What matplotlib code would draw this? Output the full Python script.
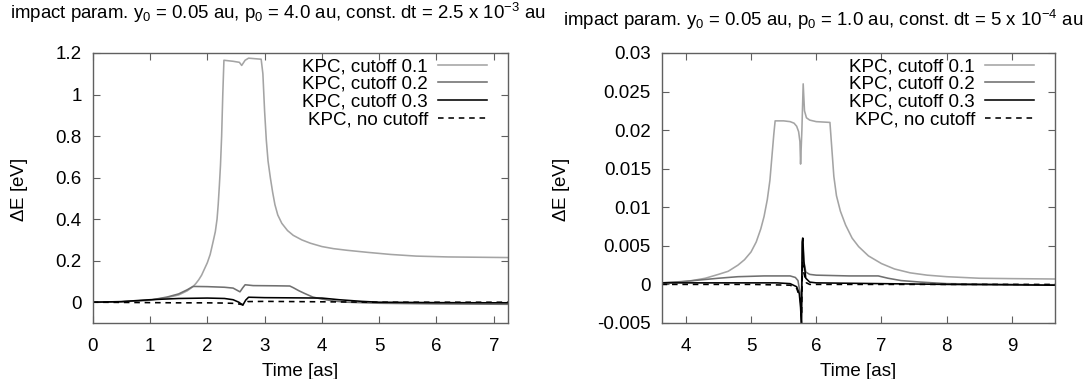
import matplotlib
matplotlib.use("Agg")
import matplotlib.pyplot as plt
from matplotlib.ticker import FormatStrFormatter, MultipleLocator

plt.rcParams["font.family"] = ["Liberation Sans", "DejaVu Sans"]
plt.rcParams["mathtext.fontset"] = "custom"
plt.rcParams["mathtext.rm"] = "Liberation Sans"
plt.rcParams["axes.unicode_minus"] = False

# ---- left panel data (p0 = 4.0 au) ----
left_t01 = [0, 0.5, 1.0, 1.3, 1.5, 1.65, 1.75, 1.8, 1.85, 1.9, 1.95, 2.0, 2.05, 2.1, 2.14,
            2.17, 2.19, 2.21, 2.23, 2.25, 2.27, 2.29, 2.45, 2.56, 2.6, 2.66, 2.72, 2.94,
            2.97, 3.0, 3.03, 3.06, 3.1, 3.14, 3.18, 3.23, 3.3, 3.4, 3.5, 3.65, 3.8, 4.0,
            4.2, 4.44, 4.8, 5.2, 5.65, 6.2, 7.25]
left_e01 = [0, 0.002, 0.01, 0.022, 0.035, 0.055, 0.075, 0.09, 0.108, 0.13, 0.16, 0.19, 0.23,
            0.29, 0.34, 0.4, 0.47, 0.56, 0.66, 0.8, 1.0, 1.165, 1.16, 1.155, 1.14, 1.165,
            1.175, 1.17, 1.1, 0.92, 0.78, 0.68, 0.6, 0.53, 0.47, 0.42, 0.38, 0.345, 0.322,
            0.3, 0.284, 0.268, 0.258, 0.25, 0.24, 0.23, 0.222, 0.218, 0.215]

left_t02 = [0, 0.5, 1.0, 1.3, 1.5, 1.65, 1.75, 2.0, 2.3, 2.45, 2.57, 2.62, 2.66, 2.8,
            3.2, 3.44, 3.5, 3.6, 3.7, 3.84, 4.0, 4.2, 4.44, 5.0, 6.0, 7.25]
left_e02 = [0, 0.002, 0.01, 0.025, 0.04, 0.06, 0.076, 0.075, 0.072, 0.068, 0.05, 0.07, 0.084, 0.08,
            0.079, 0.078, 0.07, 0.055, 0.042, 0.025, 0.015, 0.006, 0.0, -0.005, -0.008, -0.01]

left_t03 = [0, 0.5, 1.0, 1.5, 2.0, 2.3, 2.45, 2.55, 2.62, 2.67, 2.72, 3.0, 3.5, 4.0,
            4.3, 4.7, 5.0, 6.0, 7.25]
left_e03 = [0, 0.003, 0.012, 0.018, 0.02, 0.018, 0.012, 0.0, -0.014, 0.01, 0.024, 0.022, 0.021, 0.02,
            0.012, 0.004, 0.0, -0.002, -0.003]

left_t00 = [0, 0.5, 1.0, 1.5, 2.0, 2.3, 2.5, 2.62, 2.7, 3.0, 3.5, 4.0, 5.0, 7.25]
left_e00 = [0, -0.001, -0.002, -0.003, -0.003, -0.004, -0.006, -0.012, 0.003, 0.004, 0.003,
            0.002, 0.0, 0.0]

# ---- right panel data (p0 = 1.0 au) ----
right_t01 = [3.63, 3.9, 4.1, 4.3, 4.5, 4.65, 4.8, 4.9, 5.0, 5.08, 5.15, 5.2, 5.25, 5.29,
             5.32, 5.35, 5.37, 5.5, 5.6, 5.66, 5.7, 5.73, 5.75, 5.76, 5.78, 5.8, 5.82,
             5.85, 5.9, 6.0, 6.21, 6.24, 6.27, 6.31, 6.37, 6.45, 6.55, 6.65, 6.8, 7.0,
             7.2, 7.44, 7.7, 8.0, 8.5, 9.0, 9.67]
right_e01 = [0.0002, 0.0003, 0.0005, 0.0008, 0.0013, 0.0017, 0.0025, 0.0032, 0.0042, 0.0055,
             0.0072, 0.0088, 0.011, 0.0135, 0.0165, 0.0195, 0.0212, 0.0212, 0.0211, 0.0209,
             0.0205, 0.0198, 0.0185, 0.0156, 0.02, 0.026, 0.0225, 0.0216, 0.0213, 0.0211,
             0.021, 0.0175, 0.014, 0.0115, 0.0095, 0.0077, 0.006, 0.0049, 0.0037, 0.0027,
             0.002, 0.0015, 0.0012, 0.001, 0.0008, 0.00075, 0.0007]

right_t02 = [3.63, 4.0, 4.5, 4.8, 5.2, 5.6, 5.68, 5.72, 5.75, 5.77, 5.79, 5.81, 5.84, 5.9,
             6.0, 6.5, 6.95, 7.0, 7.1, 7.3, 7.6, 8.0, 9.0, 9.67]
right_e02 = [0.0002, 0.0004, 0.0008, 0.001, 0.0011, 0.0011, 0.0009, 0.0005, -0.001, -0.003,
             0.006, 0.003, 0.0016, 0.0013, 0.0012, 0.0011, 0.0011, 0.001, 0.0008, 0.0005,
             0.0003, 0.0001, 0.0, -0.0001]

right_t03 = [3.63, 4.5, 5.0, 5.4, 5.6, 5.7, 5.74, 5.76, 5.775, 5.785, 5.795, 5.81, 5.84,
             5.9, 6.0, 7.0, 8.0, 9.67]
right_e03 = [0.0002, 0.0002, 0.0002, 0.0002, 0.0001, -0.0003, -0.0012, -0.003, -0.0055, 0.0055,
             0.006, 0.003, 0.0008, 0.0003, 0.0002, 0.0001, 0.0, -0.0001]

right_t00 = [3.63, 5.0, 5.6, 5.7, 5.76, 5.775, 5.79, 5.81, 5.85, 5.9, 6.5, 9.67]
right_e00 = [0.0, 0.0, -0.0001, -0.0005, -0.002, -0.004, 0.003, 0.0015, 0.0002, 0.0, 0.0, 0.0]

labels = ["KPC, cutoff 0.1", "KPC, cutoff 0.2", "KPC, cutoff 0.3", "KPC, no cutoff"]
colors = ["#a4a4a4", "#707070", "#000000", "#000000"]
styles = ["-", "-", "-", (0, (3.5, 3))]

W, H = 1091, 379
fig = plt.figure(figsize=(W / 100, H / 100), dpi=100)
ax1 = fig.add_axes([0.0850, 0.1478, 0.3807, 0.7124])
ax2 = fig.add_axes([0.6068, 0.1478, 0.3602, 0.7124])

left_series = [(left_t01, left_e01), (left_t02, left_e02), (left_t03, left_e03), (left_t00, left_e00)]
right_series = [(right_t01, right_e01), (right_t02, right_e02), (right_t03, right_e03), (right_t00, right_e00)]

fs = 13.5
for ax, series, lx, ylx in [(ax1, left_series, 487, 19), (ax2, right_series, 1034, 562)]:
    for (t, e), lab, c, ls in zip(series, labels, colors, styles):
        ax.plot(t, e, color=c, linestyle=ls, linewidth=1.15, label=lab)
    ax.tick_params(direction="in", top=True, right=True, length=5, width=0.8,
                   color="#606060", labelsize=fs)
    ax.tick_params(axis="x", pad=10.5)
    ax.tick_params(axis="y", pad=8)
    for s in ax.spines.values():
        s.set_color("#606060")
        s.set_linewidth(1.0)
    ax.yaxis.set_major_formatter(FormatStrFormatter("%g"))
    ax.set_xlabel("Time [as]", fontsize=fs, labelpad=6)
    fig.text(ylx / W, 0.5, r"$\Delta$E [eV]", rotation=90, ha="center", va="center",
             fontsize=fs)
    ax.legend(loc="upper right", bbox_to_anchor=(lx / W, 1 - 58 / H),
              bbox_transform=fig.transFigure, frameon=False,
              markerfirst=False, fontsize=fs, labelspacing=0.03, handlelength=2.6,
              handletextpad=0.55, borderaxespad=0, borderpad=0)

ax1.set_xlim(0, 7.25)
ax1.set_ylim(-0.1, 1.2)
ax1.xaxis.set_major_locator(MultipleLocator(1))
ax1.yaxis.set_major_locator(MultipleLocator(0.2))

ax2.set_xlim(3.636, 9.66)
ax2.set_ylim(-0.005, 0.03)
ax2.xaxis.set_major_locator(MultipleLocator(1))
ax2.yaxis.set_major_locator(MultipleLocator(0.005))

fig.text(278 / W, 1 - 13 / H, r"impact param. $\mathregular{y_0}$ = 0.05 au, $\mathregular{p_0}$ = 4.0 au, const. dt = 2.5 x $\mathregular{10^{-3}}$ au",
         ha="center", va="center", fontsize=13.4)
fig.text(823 / W, 1 - 20 / H, r"impact param. $\mathregular{y_0}$ = 0.05 au, $\mathregular{p_0}$ = 1.0 au, const. dt = 5 x $\mathregular{10^{-4}}$ au",
         ha="center", va="center", fontsize=13.4)

fig.savefig("out.png", dpi=100)
